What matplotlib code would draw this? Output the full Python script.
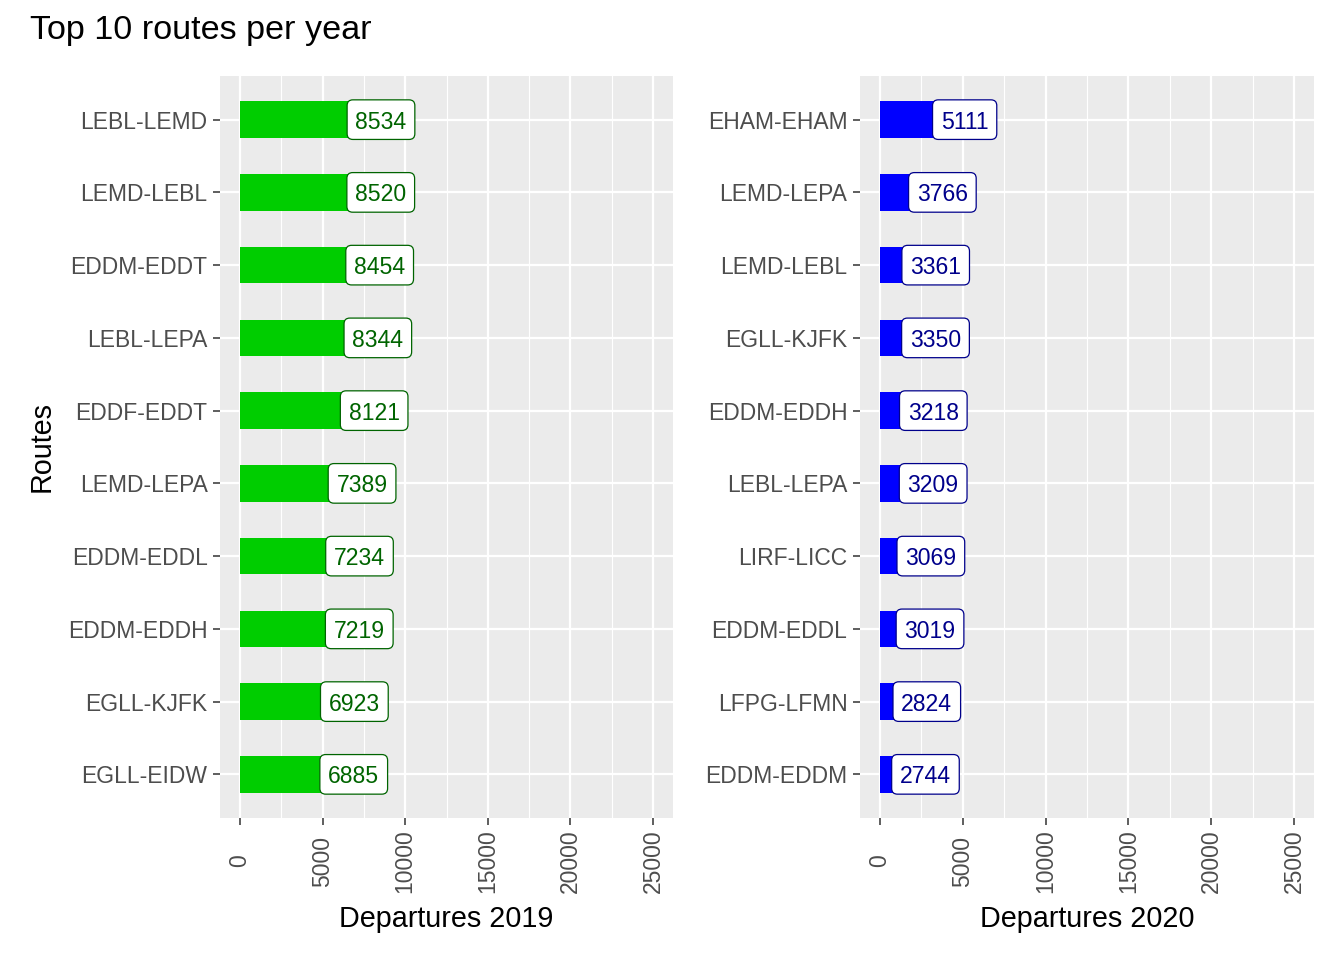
import matplotlib
matplotlib.use("Agg")
import matplotlib.pyplot as plt
from matplotlib.transforms import offset_copy
import numpy as np

# Top 10 routes, listed from rank 1 (top) to rank 10 (bottom)
routes_2019 = ["LEBL-LEMD", "LEMD-LEBL", "EDDM-EDDT", "LEBL-LEPA", "EDDF-EDDT",
               "LEMD-LEPA", "EDDM-EDDL", "EDDM-EDDH", "EGLL-KJFK", "EGLL-EIDW"]
departures_2019 = [8534, 8520, 8454, 8344, 8121, 7389, 7234, 7219, 6923, 6885]

routes_2020 = ["EHAM-EHAM", "LEMD-LEPA", "LEMD-LEBL", "EGLL-KJFK", "EDDM-EDDH",
               "LEBL-LEPA", "LIRF-LICC", "EDDM-EDDL", "LFPG-LFMN", "EDDM-EDDM"]
departures_2020 = [5111, 3766, 3361, 3350, 3218, 3209, 3069, 3019, 2824, 2744]

x_ticks = [0, 5000, 10000, 15000, 20000, 25000]
x_minor = [2500, 7500, 12500, 17500, 22500]

plt.rcParams["font.family"] = ["Liberation Sans", "DejaVu Sans"]

fig = plt.figure(figsize=(13.44, 9.6), dpi=100)
ax_l = fig.add_axes([220 / 1344, 1 - 818 / 960, 453 / 1344, 742 / 960])
ax_r = fig.add_axes([860 / 1344, 1 - 818 / 960, 454 / 1344, 742 / 960])


def draw_panel(ax, routes, values, bar_col, lab_col, xlabel):
    n = len(routes)
    ypos = np.arange(n)[::-1]
    ax.set_facecolor("#EBEBEB")
    for s in ax.spines.values():
        s.set_visible(False)
    ax.set_axisbelow(True)
    ax.barh(ypos, values, height=0.5, color=bar_col, zorder=2)
    # label box (empty-looking text) then the digits nudged down a bit
    shifted = offset_copy(ax.transData, fig=fig, x=0, y=-2.5, units="dots")
    for y, v in zip(ypos, values):
        ax.text(v, y, str(v), ha="center", va="center", fontsize=16.6,
                color="none", zorder=3,
                bbox=dict(boxstyle="round,pad=0.36,rounding_size=0.25",
                          fc="white", ec=lab_col, lw=0.9))
        ax.text(v, y, str(v), ha="center", va="center", fontsize=16.6,
                color=lab_col, zorder=4, transform=shifted)
    ax.set_xlim(-1210, 26210)
    ax.set_ylim(-0.6, n - 0.4)
    ax.set_xticks(x_ticks)
    ax.set_xticks(x_minor, minor=True)
    ax.set_xticklabels([str(t) for t in x_ticks])
    ax.set_yticks(ypos)
    ax.set_yticklabels(routes)
    ax.grid(which="major", color="white", lw=1.6)
    ax.grid(which="minor", axis="x", color="white", lw=0.8)
    ax.tick_params(axis="both", which="major", length=5, width=1.1,
                   color="#333333", labelcolor="#4D4D4D", labelsize=16.5)
    ax.tick_params(axis="x", which="minor", length=0)
    ax.tick_params(axis="y", pad=4)
    ax.tick_params(axis="x", labelrotation=90, pad=26)
    for lbl in ax.get_xticklabels():
        lbl.set_va("center")
    ax.set_xlabel(xlabel, fontsize=20.7, color="black", labelpad=9)


draw_panel(ax_l, routes_2019, departures_2019, "#00CD00", "#006400", "Departures 2019")
draw_panel(ax_r, routes_2020, departures_2020, "#0000FF", "#00008B", "Departures 2020")

fig.text(42 / 1344, 1 - 447 / 960, "Routes", rotation=90, ha="center", va="center",
         fontsize=20.7, color="black")
fig.text(30 / 1344, 1 - 31 / 960, "Top 10 routes per year", ha="left", va="center",
         fontsize=24.6, color="black")

fig.savefig("out.png", dpi=100)
